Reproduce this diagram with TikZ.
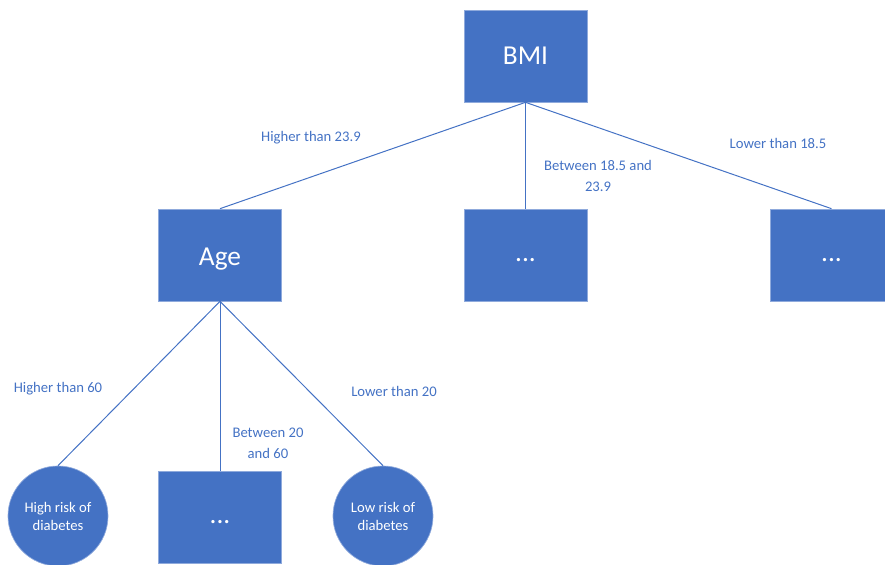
\documentclass[tikz,border=0pt]{standalone}
\usepackage{fontspec}
\setmainfont{Carlito}
\definecolor{nodeblue}{RGB}{68,114,196}
\definecolor{rimblue}{RGB}{143,170,220}
\tikzset{every picture/.style={line width=0.75pt}}
\tikzset{
  treebox/.style={draw=rimblue,line width=0.5pt,fill=nodeblue,text=white,minimum width=92.25pt,minimum height=69pt,inner sep=0pt,font=\fontsize{20.5}{22}\selectfont},
  dotbox/.style={treebox,text height=9pt,text depth=0pt},
  leafdot/.style={draw=rimblue,line width=0.5pt,fill=nodeblue,text=white,circle,minimum size=75pt,inner sep=0pt,font=\fontsize{11}{13.5}\selectfont,align=center},
  branch/.style={draw=nodeblue},
  branchlabel/.style={text=nodeblue,font=\fontsize{11}{15.5}\selectfont,align=center,inner sep=0.75pt}
}
\begin{document}
\begin{tikzpicture}[x=0.75pt,y=0.75pt,yscale=-1,xscale=1]
\useasboundingbox (0,0) rectangle (885,564);

% Boxes
\node [treebox] (bmi) at (525.5,56) {BMI};
\node [treebox,text height=17pt,text depth=1pt] (age) at (220,255) {Age};
\node [dotbox] (mid) at (525.5,255) {...};
\node [dotbox] (low) at (831.5,255) {...};
\node [dotbox] (agemid) at (220,517) {...};
% Circles
\node [leafdot] (high) at (58,516) {High risk of\\diabetes};
\node [leafdot] (lowrisk) at (383,516) {Low risk of\\diabetes};

% Connectors
\draw [branch] (bmi.south) -- (age.north);
\draw [branch] (bmi.south) -- (mid.north);
\draw [branch] (bmi.south) -- (low.north);
\draw [branch] (age.south) -- (high.north);
\draw [branch] (age.south) -- (agemid.north);
\draw [branch] (age.south) -- (lowrisk.north);

% Text Node
\node [branchlabel] (lbla) at (311,138) {Higher than 23.9};
\node [branchlabel] (lblb) at (598,176) {Between 18.5 and\\23.9};
\node [branchlabel] (lblc) at (778,143) {Lower than 18.5};
\node [branchlabel] (lbld) at (58,389) {Higher than 60};
\node [branchlabel] (lble) at (268,443) {Between 20\\and 60};
\node [branchlabel] (lblf) at (394,391) {Lower than 20};

\end{tikzpicture}
\end{document}
